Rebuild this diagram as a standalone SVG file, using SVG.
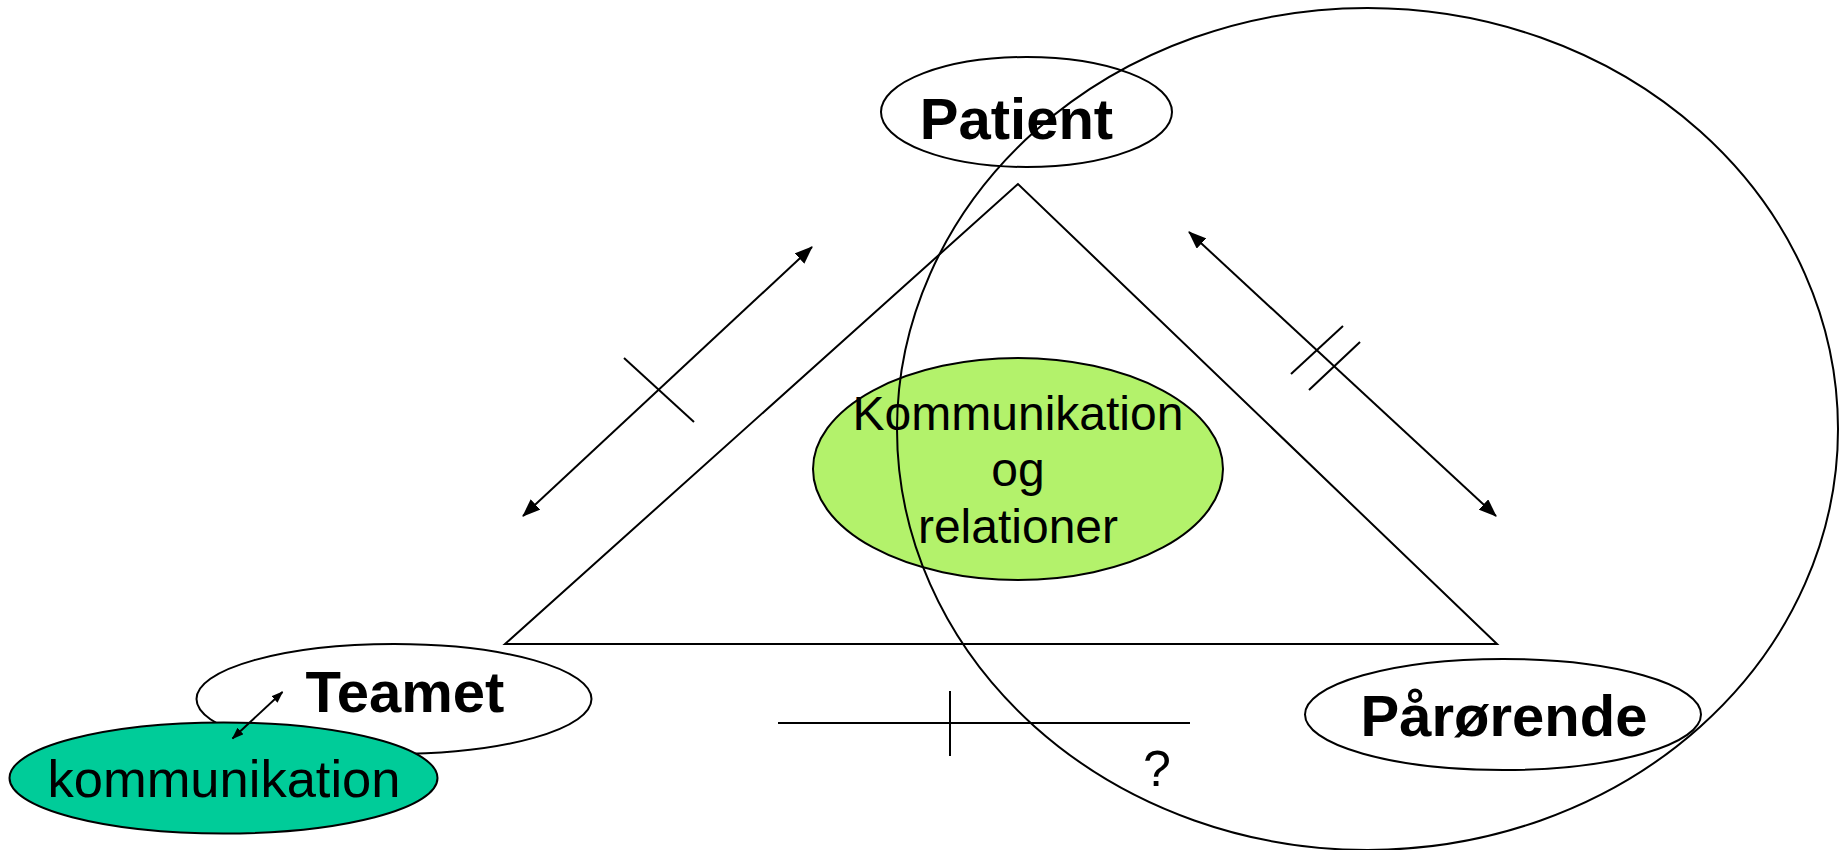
<svg xmlns="http://www.w3.org/2000/svg" width="1839" height="850" viewBox="0 0 1839 850">
<style>
.ol{fill:#fff;stroke:#000;stroke-width:2}
.ln{fill:none;stroke:#000;stroke-width:2}
.b{font-family:"Liberation Sans",Arial,sans-serif;font-weight:bold;font-size:58px;text-anchor:middle;fill:#000}
.n{font-family:"Liberation Sans",Arial,sans-serif;font-size:48px;text-anchor:middle;fill:#000}
</style>
<defs>
<marker id="ah" viewBox="0 0 18 14" refX="17" refY="7" markerWidth="18" markerHeight="14" markerUnits="userSpaceOnUse" orient="auto-start-reverse"><path d="M0,0 L18,7 L0,14 z" fill="#000"/></marker>
<marker id="ahs" viewBox="0 0 12 9" refX="11" refY="4.5" markerWidth="12" markerHeight="9" markerUnits="userSpaceOnUse" orient="auto-start-reverse"><path d="M0,0 L12,4.5 L0,9 z" fill="#000"/></marker>
</defs>
<rect width="1839" height="850" fill="#fff"/>
<g id="triangle"><polygon class="ln" points="1018,184 505,644 1497,644"/></g>
<g id="connectors">
<line class="ln" x1="523" y1="516" x2="812" y2="247" marker-start="url(#ah)" marker-end="url(#ah)"/>
<line class="ln" x1="624" y1="358" x2="694" y2="422"/>
<line class="ln" x1="1189" y1="232" x2="1496" y2="516" marker-start="url(#ah)" marker-end="url(#ah)"/>
<line class="ln" x1="1291" y1="374" x2="1343" y2="326"/>
<line class="ln" x1="1309" y1="390" x2="1360" y2="342"/>
<line class="ln" x1="778" y1="723" x2="1190" y2="723"/>
<line class="ln" x1="950" y1="691" x2="950" y2="756"/>
</g>
<g id="center">
<ellipse cx="1018" cy="469" rx="205" ry="111" fill="#b3f26b" stroke="#000" stroke-width="2"/>
<text class="n" x="1018" y="430">Kommunikation</text>
<text class="n" x="1018" y="486">og</text>
<text class="n" x="1018" y="543">relationer</text>
</g>
<g id="patient">
<ellipse class="ol" cx="1026.5" cy="112" rx="145.5" ry="55"/>
<text class="b" x="1016.5" y="139">Patient</text>
</g>
<g id="teamet">
<ellipse class="ol" cx="394" cy="699" rx="197.5" ry="55"/>
<text class="b" x="405" y="712">Teamet</text>
</g>
<g id="kommunikation">
<ellipse cx="223.5" cy="778" rx="214" ry="55.5" fill="#00cc99" stroke="#000" stroke-width="2"/>
<text class="n" x="224" y="797" style="font-size:52.5px">kommunikation</text>
</g>
<g id="paarorende">
<ellipse class="ol" cx="1503" cy="714.5" rx="198" ry="55.5"/>
<text class="b" x="1504" y="736">Pårørende</text>
</g>
<g id="small-arrow">
<line class="ln" x1="232.5" y1="738.5" x2="282.5" y2="692" marker-start="url(#ahs)" marker-end="url(#ahs)"/>
</g>
<g id="question"><text class="n" x="1157" y="786" style="font-size:50px">?</text></g>
<g id="circle"><ellipse class="ln" cx="1367.5" cy="429" rx="470.5" ry="421"/></g>
</svg>
